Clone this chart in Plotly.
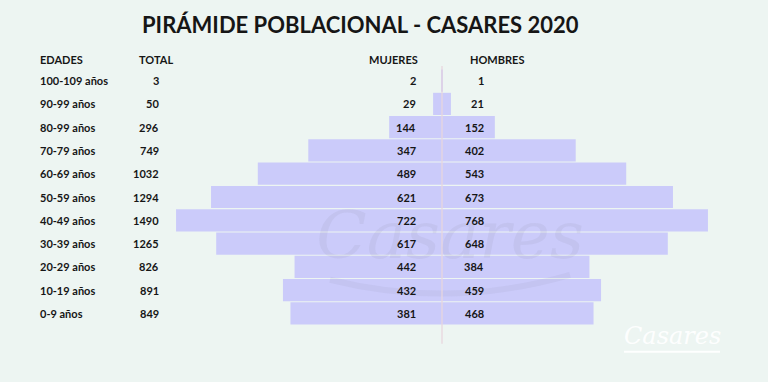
import base64
import plotly.graph_objects as go

edades = ["100-109 años", "90-99 años", "80-99 años", "70-79 años", "60-69 años",
          "50-59 años", "40-49 años", "30-39 años", "20-29 años", "10-19 años", "0-9 años"]
total = [3, 50, 296, 749, 1032, 1294, 1490, 1265, 826, 891, 849]
mujeres = [2, 29, 144, 347, 489, 621, 722, 617, 442, 432, 381]
hombres = [1, 21, 152, 402, 543, 673, 768, 648, 384, 459, 468]

W, H = 768, 382
BG = "#edf5f2"
BAR = "#cbcbfa"
TXT = "#161616"
FONT = "Lato"

half = [t / 2 for t in total]

fig = go.Figure()
fig.add_trace(go.Bar(y=edades, x=[-h for h in half], orientation="h",
                     marker=dict(color=BAR, line=dict(width=0)), hoverinfo="skip"))
fig.add_trace(go.Bar(y=edades, x=half, orientation="h",
                     marker=dict(color=BAR, line=dict(width=0)), hoverinfo="skip"))

top_px, bot_px = 69.0, 325.3
def py(p):
    return (bot_px - p) / (bot_px - top_px)

ann = []
def add(text, x, y, xanchor, size=11, yref="y", color=TXT):
    ann.append(dict(text="<b>%s</b>" % text, x=x / W, xref="paper", y=y, yref=yref,
                    xanchor=xanchor, yanchor="middle", showarrow=False,
                    font=dict(family=FONT, size=size, color=color)))

for e, t, m, h in zip(edades, total, mujeres, hombres):
    add(e, 38, e, "left")
    add(str(t), 161, e, "right")
    add(str(m), 418, e, "right")
    add(str(h), 486, e, "right")

hy = py(59)
for txt, x in [("EDADES", 38), ("TOTAL", 137), ("MUJERES", 367), ("HOMBRES", 468)]:
    ann.append(dict(text="<b>%s</b>" % txt, x=x / W, xref="paper", y=hy, yref="paper",
                    xanchor="left", yanchor="middle", showarrow=False,
                    font=dict(family=FONT, size=11, color=TXT)))

ann.append(dict(text="<b>PIRÁMIDE POBLACIONAL - CASARES 2020</b>", x=360 / W, xref="paper",
                y=py(24), yref="paper", xanchor="center", yanchor="middle", showarrow=False,
                font=dict(family=FONT, size=22, color=TXT)))

# bottom-right logo
ann.append(dict(text="<i>Casares</i>", x=672 / W, xref="paper", y=py(336), yref="paper",
                xanchor="center", yanchor="middle", showarrow=False,
                font=dict(family="DejaVu Serif", size=24, color="rgba(255,255,255,0.95)")))

# faint central watermark as an image (decorative logo)
svg = ('<svg xmlns="http://www.w3.org/2000/svg" width="280" height="120" viewBox="0 0 280 120">'
       '<text x="140" y="78" text-anchor="middle" font-family="DejaVu Serif" font-style="italic" '
       'font-size="66" fill="rgb(140,140,165)" fill-opacity="0.12">Casares</text>'
       '<path d="M20 100 Q140 130 260 95" stroke="rgb(140,140,165)" stroke-opacity="0.10" '
       'stroke-width="6" fill="none"/></svg>')
uri = "data:image/svg+xml;base64," + base64.b64encode(svg.encode()).decode()

shapes = [
    dict(type="line", xref="x", yref="paper", x0=0, x1=0, y0=py(66), y1=py(344),
         line=dict(color="rgba(232,214,222,0.85)", width=1.5), layer="above"),
    dict(type="line", xref="paper", yref="paper", x0=624 / W, x1=720 / W,
         y0=py(352), y1=py(352), line=dict(color="rgba(255,255,255,0.95)", width=2)),
]

fig.update_layout(
    width=W, height=H, barmode="relative", bargap=0.045, showlegend=False,
    paper_bgcolor=BG, plot_bgcolor=BG,
    margin=dict(l=0, r=0, t=int(top_px), b=int(round(H - bot_px))),
    xaxis=dict(range=[-442 / 0.357, (W - 442) / 0.357], visible=False, fixedrange=True),
    yaxis=dict(categoryorder="array", categoryarray=edades[::-1], visible=False,
               range=[-0.5, 10.5], fixedrange=True),
    annotations=ann, shapes=shapes,
    images=[dict(source=uri, xref="paper", yref="paper", x=310 / W, y=py(180),
                 sizex=280 / W, sizey=120 / (bot_px - top_px), xanchor="left", yanchor="top",
                 layer="above", sizing="stretch")],
)

fig.write_html("out.html", config={"displayModeBar": False},
               post_script="document.body.style.margin='0';")
